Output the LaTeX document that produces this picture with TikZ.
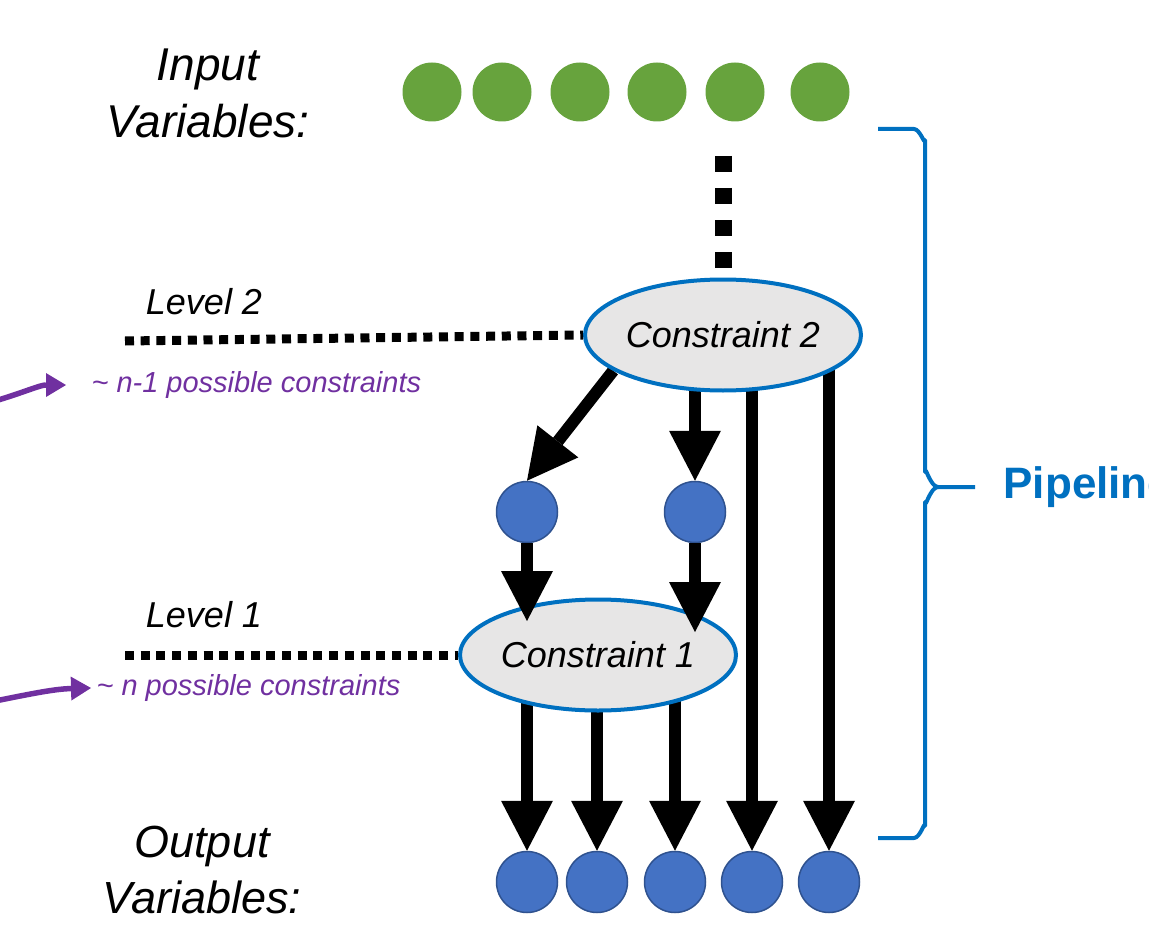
\documentclass[tikz,border=0pt]{standalone}
\usepackage{fontspec}
\setmainfont{Liberation Sans}
\usepackage{tikz}
\usetikzlibrary{arrows.meta,backgrounds,shapes.geometric}
\definecolor{vargreen}{RGB}{103,163,61}
\definecolor{varblue}{RGB}{68,114,196}
\definecolor{varedge}{RGB}{47,82,143}
\definecolor{constrfill}{RGB}{231,230,230}
\definecolor{pipeblue}{RGB}{0,112,192}
\definecolor{notepurple}{RGB}{112,48,160}
\tikzset{
  invar/.style={circle,fill=vargreen,minimum size=59pt,inner sep=0pt},
  outvar/.style={circle,fill=varblue,draw=varedge,line width=1.5pt,minimum size=61pt,inner sep=0pt},
  constr/.style={ellipse,fill=constrfill,draw=pipeblue,line width=4pt,minimum width=276pt,minimum height=111pt,inner sep=0pt,font=\fontsize{36}{40}\selectfont\itshape},
  bigarrow/.style={line width=12pt,-{Triangle[width=52pt,length=50pt,line width=0pt]}},
  levelline/.style={line width=9pt,dash pattern=on 9pt off 6.7pt},
  notearrow/.style={notepurple,line width=5.5pt,-{Triangle[width=24pt,length=20pt,line width=0pt]}},
  notetext/.style={anchor=west,text=notepurple,font=\fontsize{29}{32}\selectfont\itshape},
  leveltext/.style={font=\fontsize{36}{40}\selectfont\itshape},
  vartext/.style={align=center,font=\fontsize{46}{57}\selectfont\itshape}
}
\begin{document}
\begin{tikzpicture}[x=1pt,y=-1pt]
\useasboundingbox (0,0) rectangle (1149,947);
% input variables
\node[vartext] (inlabel) at (208,93) {Input\\Variables:};
\node[invar] (i1) at (432,92) {};
\node[invar] (i2) at (502,92) {};
\node[invar] (i3) at (580,92) {};
\node[invar] (i4) at (657,92) {};
\node[invar] (i5) at (735,92) {};
\node[invar] (i6) at (820,92) {};
% constraints
\node[constr] (c2) at (723,335) {Constraint 2};
\node[constr] (c1) at (598,655) {Constraint 1};
% intermediate and output variables
\node[outvar] (m1) at (527,512) {};
\node[outvar] (m2) at (695,512) {};
\node[outvar] (o1) at (527,882) {};
\node[outvar] (o2) at (597,882) {};
\node[outvar] (o3) at (675,882) {};
\node[outvar] (o4) at (752,882) {};
\node[outvar] (o5) at (829,882) {};
\node[vartext,font=\fontsize{45}{56}\selectfont\itshape] (outlabel) at (202,870) {Output\\Variables:};
% levels
\node[leveltext] (lv2) at (204,302) {Level 2};
\node[leveltext] (lv1) at (204,615) {Level 1};
\coordinate (l2) at (125,341);
\coordinate (l1) at (125,655);
\draw[levelline] (l2) -- (c2.west);
\draw[levelline] (l1) -- (c1.west);
\coordinate (vtop) at (723,156);
\draw[line width=17pt,dash pattern=on 16pt off 16pt] (vtop) -- (c2.north);
% notes
\coordinate (n2) at (-5,401);
\coordinate (n1) at (-5,701);
\node[notetext] (t2) at (88,385) {\textasciitilde{} n-1 possible constraints};
\node[notetext] (t1) at (93,688) {\textasciitilde{} n possible constraints};
\draw[notearrow] (n2) .. controls (25,392) and (40,385) .. ([xshift=-22pt]t2.west);
\draw[notearrow] (n1) .. controls (35,693) and (55,689) .. ([xshift=-2pt]t1.west);
% arrows
\begin{pgfonlayer}{background}
\draw[bigarrow] (c2.-162) -- (m1.north);
\draw[bigarrow] (m2 |- c2.center) -- (m2.north);
\draw[bigarrow] (o4 |- c2.center) -- (o4.north);
\draw[bigarrow] (o5 |- c2.center) -- (o5.north);
\draw[bigarrow] (o1 |- c1.center) -- (o1.north);
\draw[bigarrow] (o2 |- c1.center) -- (o2.north);
\draw[bigarrow] (o3 |- c1.center) -- (o3.north);
\end{pgfonlayer}
\coordinate (e1) at (527,621);
\coordinate (e2) at (695,632);
\draw[bigarrow] (m1.south) -- (e1);
\draw[bigarrow] (m2.south) -- (e2);
% pipeline brace
\draw[pipeblue,line width=4pt,line join=round] (878,129) -- (914,129) to[out=0,in=-90] (925,140)
  -- (925,472) to[out=90,in=180] (938,487) -- (975,487);
\draw[pipeblue,line width=4pt,line join=round] (938,487) to[out=180,in=-90] (925,502)
  -- (925,826) to[out=90,in=0] (914,838) -- (878,838);
\node[anchor=west,text=pipeblue,font=\fontsize{44}{48}\selectfont\bfseries] (pipe) at (1000,487) {Pipeline};
\end{tikzpicture}
\end{document}
